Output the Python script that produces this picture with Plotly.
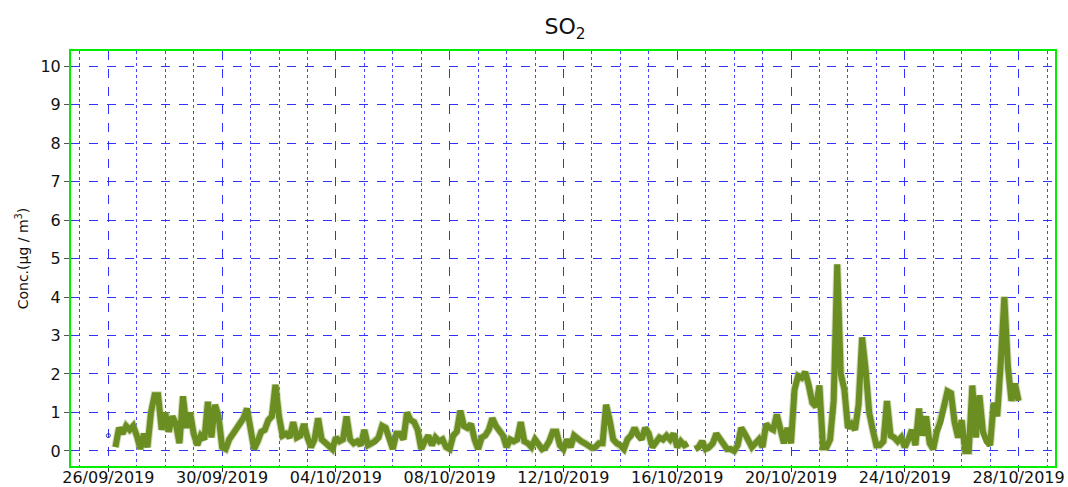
import numpy as np
import pandas as pd
import plotly.graph_objects as go

nan = np.nan
start = "2019-09-26 00:00"
step_hours = 3

# 3-hourly SO2 concentrations (µg/m3), one row per day starting 26/09/2019
so2_days = [
    [0.4, nan, 0.1, 0.6, 0.45, 0.65, 0.55, 0.65],      # 26/09
    [0.4, 0.05, 0.45, 0.1, 1.0, 1.45, 1.45, 0.55],     # 27/09
    [1.0, 0.5, 0.9, 0.7, 0.2, 1.42, 0.6, 1.0],         # 28/09
    [0.45, 0.15, 0.4, 0.3, 1.28, 0.35, 1.2, 0.9],      # 29/09
    [0.1, 0.05, 0.3, 0.45, 0.55, 0.7, 0.85, 1.1],      # 30/09
    [0.5, 0.05, 0.25, 0.5, 0.55, 0.8, 0.9, 1.72],      # 01/10
    [0.9, 0.4, 0.45, 0.35, 0.75, 0.35, 0.4, 0.7],      # 02/10
    [0.35, 0.1, 0.3, 0.85, 0.3, 0.2, 0.1, 0.05],       # 03/10
    [0.35, 0.25, 0.3, 0.9, 0.3, 0.2, 0.25, 0.15],      # 04/10
    [0.55, 0.15, 0.2, 0.25, 0.35, 0.65, 0.6, 0.35],    # 05/10
    [0.05, 0.45, 0.45, 0.3, 1.0, 0.8, 0.75, 0.55],     # 06/10
    [0.05, 0.25, 0.4, 0.15, 0.35, 0.25, 0.3, 0.1],     # 07/10
    [0.05, 0.4, 0.5, 1.05, 0.65, 0.6, 0.7, 0.3],       # 08/10
    [0.05, 0.35, 0.4, 0.55, 0.85, 0.65, 0.5, 0.4],     # 09/10
    [0.1, 0.3, 0.25, 0.3, 0.75, 0.25, 0.2, 0.1],       # 10/10
    [0.3, 0.15, 0.05, 0.1, 0.25, 0.5, 0.5, 0.15],      # 11/10
    [0.05, 0.3, 0.1, 0.4, 0.3, 0.25, 0.2, 0.12],       # 12/10
    [0.08, 0.1, 0.2, 0.2, 1.2, 0.8, 0.3, 0.2],         # 13/10
    [0.15, 0.05, 0.3, 0.4, 0.6, 0.4, 0.3, 0.6],        # 14/10
    [0.45, 0.1, 0.25, 0.35, 0.3, 0.4, 0.3, 0.45],      # 15/10
    [0.1, 0.25, 0.15, 0.2, nan, 0.05, 0.1, 0.25],      # 16/10
    [0.05, 0.1, 0.2, 0.45, 0.3, 0.15, 0.05, 0.05],     # 17/10
    [0.0, 0.15, 0.6, 0.45, 0.3, 0.1, 0.2, 0.3],        # 18/10
    [0.1, 0.7, 0.6, 0.55, 0.95, 0.6, 0.2, 0.6],        # 19/10
    [0.2, 1.6, 1.95, 1.9, 2.05, 1.7, 1.25, 1.15],      # 20/10
    [1.7, 0.1, 0.1, 0.3, 1.3, 4.85, 2.0, 1.6],         # 21/10
    [0.6, 0.7, 0.55, 1.2, 2.95, 2.1, 1.0, 0.55],       # 22/10
    [0.15, 0.15, 0.25, 1.3, 0.4, 0.35, 0.25, 0.35],    # 23/10
    [0.1, 0.3, 0.55, 0.15, 1.1, 0.4, 0.9, 0.2],        # 24/10
    [0.05, 0.5, 0.75, 1.15, 1.55, 1.5, 0.75, 0.35],    # 25/10
    [0.8, 0.0, 0.0, 1.7, 0.35, 1.45, 0.5, 0.25],       # 26/10
    [0.15, 1.25, 0.9, 2.3, 4.0, 2.2, 1.3, 1.75],       # 27/10
    [1.3],                                             # 28/10
]

y_ticks = list(range(0, 11))
x_tick_start = "2019-09-26"
x_range = ["2019-09-24 16:30", "2019-10-29 06:45"]
y_range = [-0.39, 10.39]

values = np.array([v for day in so2_days for v in day], dtype=float)
times = pd.date_range(start, periods=len(values), freq=f"{step_hours}h")

# isolated points (neighbours missing) shown as small markers
iso = []
for k in range(len(values)):
    if np.isnan(values[k]):
        continue
    left = np.isnan(values[k - 1]) if k > 0 else True
    right = np.isnan(values[k + 1]) if k < len(values) - 1 else True
    if left and right:
        iso.append(k)

fig = go.Figure()
fig.add_trace(go.Scatter(x=times, y=values, mode="lines",
                         line=dict(color="rgba(170,185,120,0.55)", width=8),
                         hoverinfo="skip", showlegend=False))
fig.add_trace(go.Scatter(x=times, y=values, mode="lines",
                         line=dict(color="#6B8E23", width=6),
                         showlegend=False, name="SO2"))
fig.add_trace(go.Scatter(x=times[iso], y=values[iso], mode="markers",
                         marker=dict(symbol="circle-open", size=4,
                                     color="#3a3a8a", line=dict(width=1)),
                         showlegend=False))

grid_blue = "rgb(50,50,255)"
fig.update_layout(
    width=1068, height=487,
    margin=dict(l=71, r=13, t=51, b=21),
    paper_bgcolor="white", plot_bgcolor="white",
    font=dict(family="DejaVu Sans", size=16, color="#111"),
    title=dict(text="SO<sub>2</sub>", x=0.529, xanchor="center",
               y=0.945, yanchor="middle",
               font=dict(family="DejaVu Sans", size=22, color="#111")),
    annotations=[dict(text="Conc.(µg / m<sup>3</sup>)", textangle=-90,
                      xref="paper", yref="paper", x=-0.05, y=0.5,
                      xanchor="center", yanchor="middle", showarrow=False,
                      font=dict(family="DejaVu Sans", size=14, color="#111"))],
)
fig.update_xaxes(
    type="date", range=x_range, automargin=False,
    tick0=x_tick_start, dtick=4 * 86400000, tickformat="%d/%m/%Y",
    showgrid=True, gridcolor=grid_blue, griddash="dash", gridwidth=1,
    minor=dict(dtick=86400000, tick0=x_tick_start, showgrid=True,
               gridcolor="rgb(70,70,255)", griddash="dot", gridwidth=1),
    ticks="outside", ticklen=4, tickcolor="#333", ticklabelstandoff=-8,
    showline=True, linecolor="#00ee00", linewidth=2, mirror=True,
    zeroline=False, tickfont=dict(size=16),
)
fig.update_yaxes(
    range=y_range, tickvals=y_ticks, automargin=False,
    showgrid=True, gridcolor=grid_blue, griddash="dash", gridwidth=1,
    ticks="outside", ticklen=5, tickcolor="#555",
    showline=True, linecolor="#00ee00", linewidth=2, mirror=True,
    zeroline=False, tickfont=dict(size=16),
)

fig.write_html("out.html",
               config={"displayModeBar": False},
               post_script="document.body.style.margin='0';"
                           "document.body.style.overflow='hidden';")
